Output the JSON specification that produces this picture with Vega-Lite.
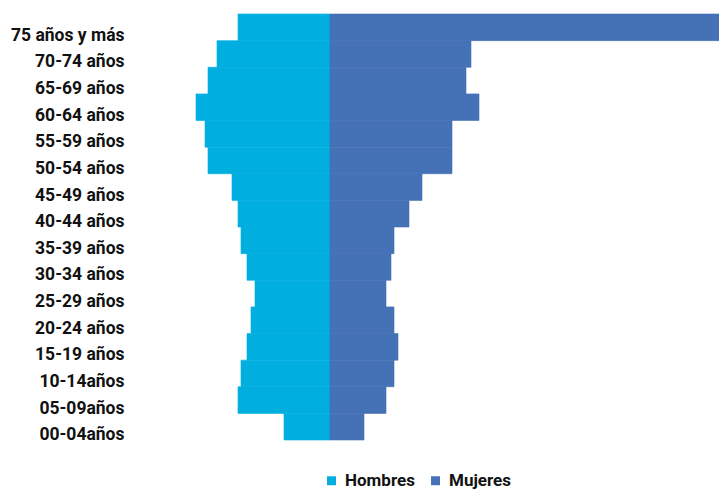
{
  "$schema": "https://vega.github.io/schema/vega-lite/v6.json",
  "width": 589,
  "height": 426,
  "autosize": {"type": "none"},
  "padding": {"left": 130, "top": 14, "right": 0, "bottom": 49},
  "background": "white",
  "config": {"view": {"stroke": null}},
  "data": {
    "values": [
      {"edad": "75 años y más", "sexo": "Hombres", "valor": -92},
      {"edad": "70-74 años", "sexo": "Hombres", "valor": -113},
      {"edad": "65-69 años", "sexo": "Hombres", "valor": -122},
      {"edad": "60-64 años", "sexo": "Hombres", "valor": -134},
      {"edad": "55-59 años", "sexo": "Hombres", "valor": -125},
      {"edad": "50-54 años", "sexo": "Hombres", "valor": -122},
      {"edad": "45-49 años", "sexo": "Hombres", "valor": -98},
      {"edad": "40-44 años", "sexo": "Hombres", "valor": -92},
      {"edad": "35-39 años", "sexo": "Hombres", "valor": -89},
      {"edad": "30-34 años", "sexo": "Hombres", "valor": -83},
      {"edad": "25-29 años", "sexo": "Hombres", "valor": -75},
      {"edad": "20-24 años", "sexo": "Hombres", "valor": -79},
      {"edad": "15-19 años", "sexo": "Hombres", "valor": -83},
      {"edad": "10-14años", "sexo": "Hombres", "valor": -89},
      {"edad": "05-09años", "sexo": "Hombres", "valor": -92},
      {"edad": "00-04años", "sexo": "Hombres", "valor": -46},
      {"edad": "75 años y más", "sexo": "Mujeres", "valor": 389},
      {"edad": "70-74 años", "sexo": "Mujeres", "valor": 141},
      {"edad": "65-69 años", "sexo": "Mujeres", "valor": 136},
      {"edad": "60-64 años", "sexo": "Mujeres", "valor": 149},
      {"edad": "55-59 años", "sexo": "Mujeres", "valor": 122},
      {"edad": "50-54 años", "sexo": "Mujeres", "valor": 122},
      {"edad": "45-49 años", "sexo": "Mujeres", "valor": 92},
      {"edad": "40-44 años", "sexo": "Mujeres", "valor": 79},
      {"edad": "35-39 años", "sexo": "Mujeres", "valor": 64},
      {"edad": "30-34 años", "sexo": "Mujeres", "valor": 61},
      {"edad": "25-29 años", "sexo": "Mujeres", "valor": 56},
      {"edad": "20-24 años", "sexo": "Mujeres", "valor": 64},
      {"edad": "15-19 años", "sexo": "Mujeres", "valor": 68},
      {"edad": "10-14años", "sexo": "Mujeres", "valor": 64},
      {"edad": "05-09años", "sexo": "Mujeres", "valor": 56},
      {"edad": "00-04años", "sexo": "Mujeres", "valor": 34}
    ]
  },
  "mark": {"type": "bar", "strokeWidth": 0.6},
  "encoding": {
    "y": {
      "field": "edad",
      "type": "nominal",
      "sort": null,
      "scale": {"paddingInner": 0, "paddingOuter": 0},
      "axis": {
        "title": null,
        "domain": false,
        "ticks": false,
        "labelPadding": 6,
        "labelOffset": 8.5,
        "labelFont": "Roboto",
        "labelFontWeight": "bold",
        "labelFontSize": 17.5,
        "labelColor": "#111111"
      }
    },
    "x": {
      "field": "valor",
      "type": "quantitative",
      "stack": null,
      "scale": {"domain": [-200, 389], "nice": false, "zero": false},
      "axis": null
    },
    "stroke": {
      "field": "sexo",
      "type": "nominal",
      "scale": {"domain": ["Hombres", "Mujeres"], "range": ["#00AEDF", "#4571B6"]},
      "legend": null
    },
    "color": {
      "field": "sexo",
      "type": "nominal",
      "scale": {"domain": ["Hombres", "Mujeres"], "range": ["#00AEDF", "#4571B6"]},
      "legend": {
        "title": null,
        "orient": "none",
        "direction": "horizontal",
        "legendX": 193,
        "legendY": 458,
        "symbolType": "square",
        "symbolSize": 80,
        "symbolStrokeWidth": 0,
        "symbolOpacity": 1,
        "labelFont": "Roboto",
        "labelFontWeight": "bold",
        "labelFontSize": 17,
        "labelColor": "#111111",
        "columnPadding": 12,
        "labelOffset": 5
      }
    }
  }
}
